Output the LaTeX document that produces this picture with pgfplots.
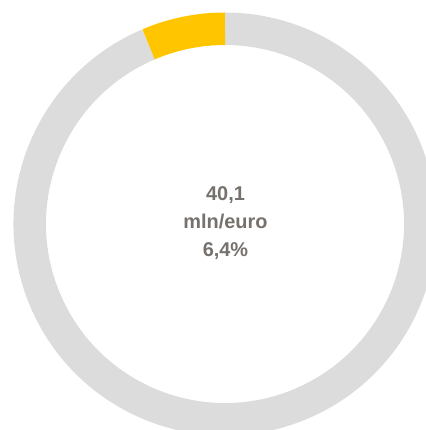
\documentclass[border=0pt]{standalone}
\usepackage{pgfplots}
\usepackage{pgfplotstable}
\pgfplotsset{compat=1.18}
\usepackage{fontspec}
\setmainfont{Liberation Sans}
\definecolor{ringgray}{RGB}{220,220,220}
\definecolor{ringyellow}{RGB}{255,198,0}
\definecolor{txtgray}{RGB}{118,113,108}
\pgfplotstableread{
label value
share 6.4
rest 93.6
}\donutdata
\begin{document}
\begin{tikzpicture}
\pgfplotstablegetelem{0}{value}\of\donutdata
\let\valA\pgfplotsretval
\pgfplotstablegetelem{1}{value}\of\donutdata
\let\valB\pgfplotsretval
\pgfmathsetmacro{\angA}{90+3.6*\valA}
\pgfmathsetmacro{\angB}{\angA+3.6*\valB}
\begin{axis}[
  hide axis, scale only axis,
  width=426bp, height=430bp,
  xmin=0, xmax=426, ymin=0, ymax=430,
  clip=true,
]
\addplot[draw=none, mark=none] coordinates {(225,206)};
\draw[line width=32.5bp, ringgray] (axis cs:225,206) ++(\angA:195.25bp) arc[start angle=\angA, end angle=\angB, radius=195.25bp];
\draw[line width=32.5bp, ringyellow] (axis cs:225,206) ++(90:195.25bp) arc[start angle=90, end angle=\angA, radius=195.25bp];
\node[align=center, text=txtgray, font=\fontsize{20}{28.5}\selectfont\bfseries] at (axis cs:225.5,207) {40,1\\mln/euro\\6,4\%};
\end{axis}
\pgfresetboundingbox
\path (current axis.south west) rectangle (current axis.north east);
\end{tikzpicture}
\end{document}
